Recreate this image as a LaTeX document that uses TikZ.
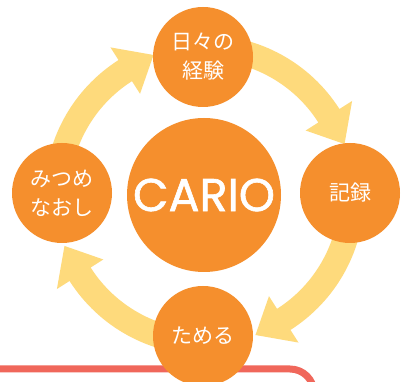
\documentclass[tikz,border=0pt]{standalone}
\usepackage{fontspec}
\newfontfamily\jpfont{Noto Sans CJK JP}
\newfontfamily\cariofont{Poppins}[FakeBold=1.3]
\definecolor{orng}{RGB}{245,143,45}
\definecolor{ylw}{RGB}{254,218,124}
\definecolor{redl}{RGB}{240,103,91}
\tikzset{
  stage/.style={circle, fill=orng, minimum size=100pt, inner sep=0pt, text=white,
    font=\jpfont\fontsize{21}{29}\selectfont, align=center},
  hub/.style={circle, fill=orng, minimum size=154pt, inner sep=0pt, text=white,
    font=\cariofont\fontsize{46}{50}\selectfont},
  band/.style={fill=ylw}
}
\newcommand{\cyclearrow}[1]{%
  \fill[band] (#1+90:160pt) arc[start angle=#1+90, end angle=#1+32.5, radius=160pt]
    -- (#1+32.5:175pt) -- (#1+20:149pt) -- (#1+32.5:120pt) -- (#1+32.5:135pt)
    arc[start angle=#1+32.5, end angle=#1+90, radius=135pt] -- cycle;}
\begin{document}
\begin{tikzpicture}[x=1pt,y=1pt]
\useasboundingbox (0,0) rectangle (401,382);
\clip (0,0) rectangle (401,382);
\fill[white] (0,0) rectangle (401,382);
% red frame
\coordinate (fa) at (-20,13);
\coordinate (fb) at (314,13);
\coordinate (fc) at (314,-40);
\draw[redl, line width=7pt, rounded corners=24pt] (fa) -- (fb) -- (fc);
% ring arrows
\begin{scope}[shift={(204.5,187)}]
  \cyclearrow{0}
  \cyclearrow{90}
  \cyclearrow{180}
  \cyclearrow{270}
\end{scope}
% nodes
\node[hub] (cario) at (204,187) {CARIO};
\node[stage] (top) at (203,325) {日々の\\経験};
\node[stage] (right) at (350,189) {記録};
\node[stage] (bottom) at (203,46) {ためる};
\node[stage] (left) at (62,189) {みつめ\\なおし};
\end{tikzpicture}
\end{document}
